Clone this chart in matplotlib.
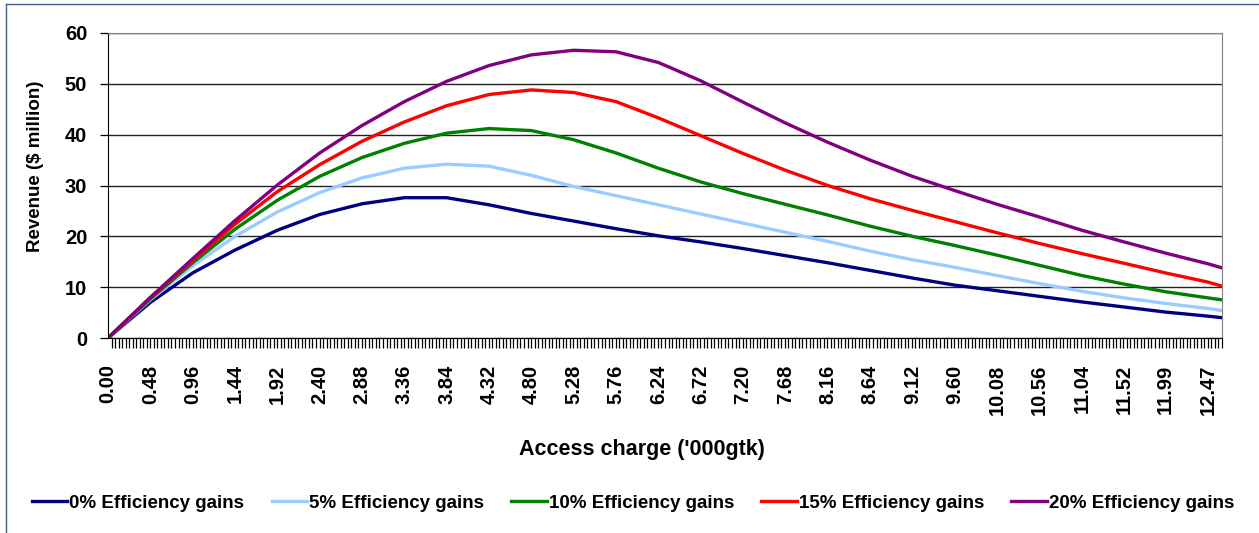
import numpy as np
import matplotlib.pyplot as plt
from matplotlib.lines import Line2D

plt.rcParams['font.family'] = ['Liberation Sans', 'DejaVu Sans']
plt.rcParams['font.weight'] = 'bold'

# access charge ('000gtk) at the labelled categories, plus the last category
charge = [0.00, 0.48, 0.96, 1.44, 1.92, 2.40, 2.88, 3.36, 3.84, 4.32, 4.80,
          5.28, 5.76, 6.24, 6.72, 7.20, 7.68, 8.16, 8.64, 9.12, 9.60, 10.08,
          10.56, 11.04, 11.52, 11.99, 12.47, 12.63]
tick_labels = ['0.00', '0.48', '0.96', '1.44', '1.92', '2.40', '2.88', '3.36',
               '3.84', '4.32', '4.80', '5.28', '5.76', '6.24', '6.72', '7.20',
               '7.68', '8.16', '8.64', '9.12', '9.60', '10.08', '10.56',
               '11.04', '11.52', '11.99', '12.47']
n_categories = 317

eff0 = [0, 7.0, 12.8, 17.3, 21.2, 24.3, 26.4, 27.6, 27.6, 26.2, 24.5, 23.0,
        21.5, 20.1, 18.9, 17.6, 16.2, 14.8, 13.3, 11.8, 10.4, 9.3, 8.2, 7.1,
        6.1, 5.1, 4.3, 4.0]
eff5 = [0, 7.5, 14.2, 20.0, 24.8, 28.6, 31.5, 33.4, 34.2, 33.8, 32.0, 29.8,
        28.0, 26.2, 24.4, 22.6, 20.8, 19.0, 17.1, 15.4, 13.9, 12.3, 10.7, 9.2,
        7.9, 6.8, 5.8, 5.4]
eff10 = [0, 7.7, 14.8, 21.4, 27.1, 31.8, 35.5, 38.3, 40.3, 41.2, 40.8, 39.0,
         36.4, 33.4, 30.7, 28.4, 26.3, 24.2, 22.0, 20.0, 18.2, 16.3, 14.3,
         12.3, 10.6, 9.1, 7.9, 7.5]
eff15 = [0, 7.9, 15.2, 22.4, 28.8, 34.1, 38.7, 42.5, 45.7, 47.9, 48.8, 48.3,
         46.5, 43.3, 39.8, 36.3, 33.0, 30.0, 27.4, 25.1, 22.9, 20.7, 18.6,
         16.6, 14.7, 12.8, 11.0, 10.2]
eff20 = [0, 8.0, 15.6, 23.1, 30.1, 36.4, 41.8, 46.5, 50.5, 53.6, 55.7, 56.6,
         56.3, 54.2, 50.6, 46.4, 42.3, 38.5, 35.0, 31.8, 29.0, 26.3, 23.8,
         21.2, 18.9, 16.7, 14.6, 13.8]

series = [
    ('0% Efficiency gains', eff0, '#000080'),
    ('5% Efficiency gains', eff5, '#99CCFF'),
    ('10% Efficiency gains', eff10, '#008000'),
    ('15% Efficiency gains', eff15, '#FF0000'),
    ('20% Efficiency gains', eff20, '#800080'),
]

fig = plt.figure(figsize=(12.59, 5.33), dpi=100)
ax = fig.add_axes([108 / 1259, 1 - 338 / 533, 1114 / 1259, 305 / 533])

for name, vals, col in series:
    ax.plot(charge, vals, color=col, lw=2.4, label=name)

ax.set_xlim(0, charge[-1])
ax.set_ylim(0, 60)
ax.set_yticks(range(0, 61, 10))
ax.set_xticks(charge[:-1])
ax.set_xticklabels(tick_labels, rotation=90, fontsize=14.5, fontweight='bold')
ax.set_xticks(np.linspace(0, charge[-1], n_categories), minor=True)
ax.tick_params(axis='x', which='major', length=0, pad=19)
ax.tick_params(axis='x', which='minor', length=7, width=0.9, color='black')
ax.tick_params(axis='y', length=6, width=0.9, labelsize=14.5, pad=9)
for lab in ax.get_yticklabels():
    lab.set_fontweight('bold')

ax.grid(axis='y', color='#222222', lw=1)
ax.set_axisbelow(True)
ax.spines['top'].set_color('#808080')
ax.spines['right'].set_color('#808080')
ax.spines['left'].set_color('black')
ax.spines['bottom'].set_color('black')

fig.text(36 / 1259, 1 - 166 / 533, 'Revenue ($ million)', rotation=90,
         ha='center', va='center', fontsize=13.5, fontweight='bold')
fig.text(642 / 1259, 1 - 450 / 533, "Access charge ('000gtk)",
         ha='center', va='center', fontsize=15.5, fontweight='bold')

fig.legend(loc='center', bbox_to_anchor=(633 / 1259, 1 - 503 / 533), ncol=5,
           frameon=False, handlelength=1.9, handletextpad=0.1,
           columnspacing=1.45, prop={'weight': 'bold', 'size': 13.5})

# chart area border (left and top edges visible)
fig.add_artist(Line2D([6 / 1259, 6 / 1259], [0, 1 - 4 / 533],
                      transform=fig.transFigure, color='#3F5F8F', lw=1))
fig.add_artist(Line2D([6 / 1259, 1], [1 - 4 / 533, 1 - 4 / 533],
                      transform=fig.transFigure, color='#3F5F8F', lw=1))

fig.savefig('out.png', dpi=100)
